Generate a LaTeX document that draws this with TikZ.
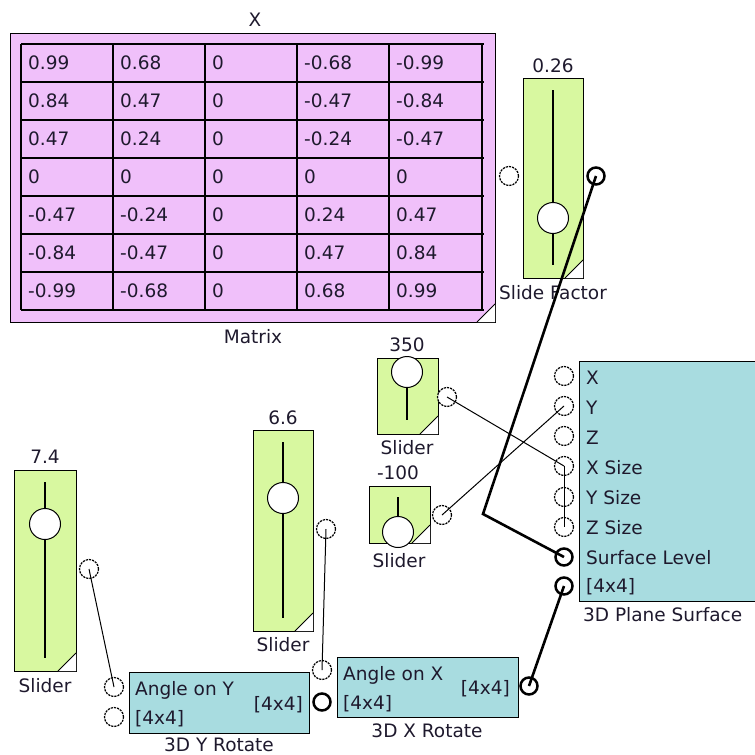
\documentclass[tikz,border=0pt]{standalone}
\usepackage{fontspec}
\setmainfont{DejaVu Sans}
\definecolor{matpink}{RGB}{240,192,250}
\definecolor{sgreen}{RGB}{216,248,160}
\definecolor{sblue}{RGB}{168,220,224}
\definecolor{txt}{RGB}{30,25,45}
\begin{document}
\begin{tikzpicture}[x=1pt,y=-1pt,
  font=\fontsize{18.5}{20}\selectfont, text=txt,
  lbl/.style={inner sep=0},
  blk/.style={draw, line width=1.3pt, anchor=north west, inner sep=0},
  port/.style={circle, draw, fill=white, minimum size=19pt, inner sep=0, line width=1.2pt, dash pattern=on 2.2pt off 1pt},
  bport/.style={circle, draw, fill=white, minimum size=17pt, inner sep=0, line width=2.5pt},
  knob/.style={circle, draw, fill=white, minimum size=31pt, inner sep=0, line width=1pt},
  track/.style={line width=1.1pt},
  wire/.style={line width=1pt},
  bwire/.style={line width=2.6pt},
  grid/.style={line width=1.5pt},
  cell/.style={anchor=west, inner sep=0}
]
\clip (0,0) rectangle (755,755);
\useasboundingbox (0,0) rectangle (755,755);

% ---------- Matrix ----------
\node[blk, fill=matpink, minimum width=485pt, minimum height=289pt] (mat) at (10,33) {};
\fill[white] (495,322) -- (477,322) -- (495,304) -- cycle;
\draw[line width=1pt] (477,322) -- (495,304);
\foreach \x in {21,113,205,297,389,482} \draw[grid] (\x,44) -- (\x,310);
\foreach \y in {44,82,120,158,196,234,272,310} \draw[grid] (21,\y) -- (484,\y);
\node[lbl] (mattitle) at (255,20) {X};
\node[lbl] (matlabel) at (253,337) {Matrix};
\foreach \r/\a/\b/\c/\d/\e in {1/0.99/0.68/0/-0.68/-0.99, 2/0.84/0.47/0/-0.47/-0.84, 3/0.47/0.24/0/-0.24/-0.47, 4/0/0/0/0/0, 5/-0.47/-0.24/0/0.24/0.47, 6/-0.84/-0.47/0/0.47/0.84, 7/-0.99/-0.68/0/0.68/0.99}{
  \pgfmathsetmacro{\yy}{44+38*\r-19}
  \node[cell] at (28,\yy) {\a};
  \node[cell] at (120,\yy) {\b};
  \node[cell] at (212,\yy) {\c};
  \node[cell] at (304,\yy) {\d};
  \node[cell] at (396,\yy) {\e};
}

% ---------- Slide Factor ----------
\node[blk, fill=sgreen, minimum width=60pt, minimum height=200pt] (sf) at (523,78) {};
\fill[white] (583,278) -- (565,278) -- (583,260) -- cycle;
\draw[line width=1pt] (565,278) -- (583,260);
\draw[track] (553,90) -- (553,265);
\node[knob] (sfknob) at (553,218) {};
\node[lbl] (sfval) at (553,66) {0.26};
\node[lbl] (sflab) at (553,293) {Slide Factor};
\node[port] (sfin) at (509,176) {};
\node[bport] (sfout) at (596,176) {};

% ---------- Slider 350 ----------
\node[blk, fill=sgreen, minimum width=61pt, minimum height=76pt] (s350) at (377,358) {};
\fill[white] (438,434) -- (420,434) -- (438,416) -- cycle;
\draw[line width=1pt] (420,434) -- (438,416);
\draw[track] (407,372) -- (407,420);
\node[knob] (k350) at (407,372) {};
\node[lbl] (v350) at (407,345) {350};
\node[lbl] (l350) at (407,448) {Slider};
\node[port] (o350) at (447,397) {};

% ---------- Slider -100 ----------
\node[blk, fill=sgreen, minimum width=61pt, minimum height=57pt] (sm100) at (369,486) {};
\fill[white] (430,543) -- (412,543) -- (430,525) -- cycle;
\draw[line width=1pt] (412,543) -- (430,525);
\draw[track] (398,497) -- (398,532);
\node[knob] (km100) at (398,532) {};
\node[lbl] (vm100) at (398,473) {-100};
\node[lbl] (lm100) at (399,561) {Slider};
\node[port] (om100) at (442,515) {};

% ---------- Slider 7.4 ----------
\node[blk, fill=sgreen, minimum width=62pt, minimum height=201pt] (s74) at (14,470) {};
\fill[white] (76,671) -- (58,671) -- (76,653) -- cycle;
\draw[line width=1pt] (58,671) -- (76,653);
\draw[track] (45,482) -- (45,658);
\node[knob] (k74) at (45,524) {};
\node[lbl] (v74) at (45,457) {7.4};
\node[lbl] (l74) at (45,686) {Slider};
\node[port] (o74) at (89,569) {};

% ---------- Slider 6.6 ----------
\node[blk, fill=sgreen, minimum width=60pt, minimum height=201pt] (s66) at (253,430) {};
\fill[white] (313,631) -- (295,631) -- (313,613) -- cycle;
\draw[line width=1pt] (295,631) -- (313,613);
\draw[track] (283,442) -- (283,618);
\node[knob] (k66) at (283,498) {};
\node[lbl] (v66) at (283,418) {6.6};
\node[lbl] (l66) at (283,645) {Slider};
\node[port] (o66) at (326,529) {};

% ---------- 3D Plane Surface ----------
\node[blk, fill=sblue, minimum width=300pt, minimum height=240pt] (ps) at (579,361) {};
\node[lbl] (pslab) at (583,615) [anchor=west] {3D Plane Surface};
\node[port] (px) at (564,376) {};
\node[port] (py) at (564,406) {};
\node[port] (pz) at (564,436) {};
\node[port] (pxs) at (564,466) {};
\node[port] (pys) at (564,497) {};
\node[port] (pzs) at (564,527) {};
\node[bport] (psl) at (564,557) {};
\node[bport] (pm) at (564,586) {};
\node[lbl, anchor=west] at (586,378) {X};
\node[lbl, anchor=west] at (586,408) {Y};
\node[lbl, anchor=west] at (586,438) {Z};
\node[lbl, anchor=west] at (586,468) {X Size};
\node[lbl, anchor=west] at (586,498) {Y Size};
\node[lbl, anchor=west] at (586,528) {Z Size};
\node[lbl, anchor=west] at (586,558) {Surface Level};
\node[lbl, anchor=west] at (586,587) {[4x4]};

% ---------- 3D Y Rotate ----------
\node[blk, fill=sblue, minimum width=180pt, minimum height=61pt] (yr) at (129,672) {};
\node[lbl] (yrlab) at (219,745) {3D Y Rotate};
\node[lbl, anchor=west] at (135,690) {Angle on Y};
\node[lbl, anchor=east] at (303,705) {[4x4]};
\node[lbl, anchor=west] at (135,719) {[4x4]};
\node[port] (yra) at (114,687) {};
\node[port] (yrm) at (114,717) {};

% ---------- 3D X Rotate ----------
\node[blk, fill=sblue, minimum width=181pt, minimum height=60pt] (xr) at (337,657) {};
\node[lbl] (xrlab) at (427,731) {3D X Rotate};
\node[lbl, anchor=west] at (343,675) {Angle on X};
\node[lbl, anchor=east] at (510,689) {[4x4]};
\node[lbl, anchor=west] at (343,704) {[4x4]};
\node[port] (xra) at (322,670) {};
\node[bport] (yrout) at (322,702) {};
\node[bport] (xrout) at (529,686) {};

% ---------- Wires ----------
\coordinate (bend) at (483,514);
\draw[bwire] (sfout.center) -- (bend) -- (psl.center);
\draw[bwire] (pm.center) -- (xrout.center);
\draw[wire] (o350.center) -- (pxs.center);
\draw[wire] (om100.center) -- (py.center);
\draw[wire] (pxs.center) -- (pzs.center);
\draw[wire] (o74.center) -- (yra.center);
\draw[wire] (o66.center) -- (xra.center);
\end{tikzpicture}
\end{document}
